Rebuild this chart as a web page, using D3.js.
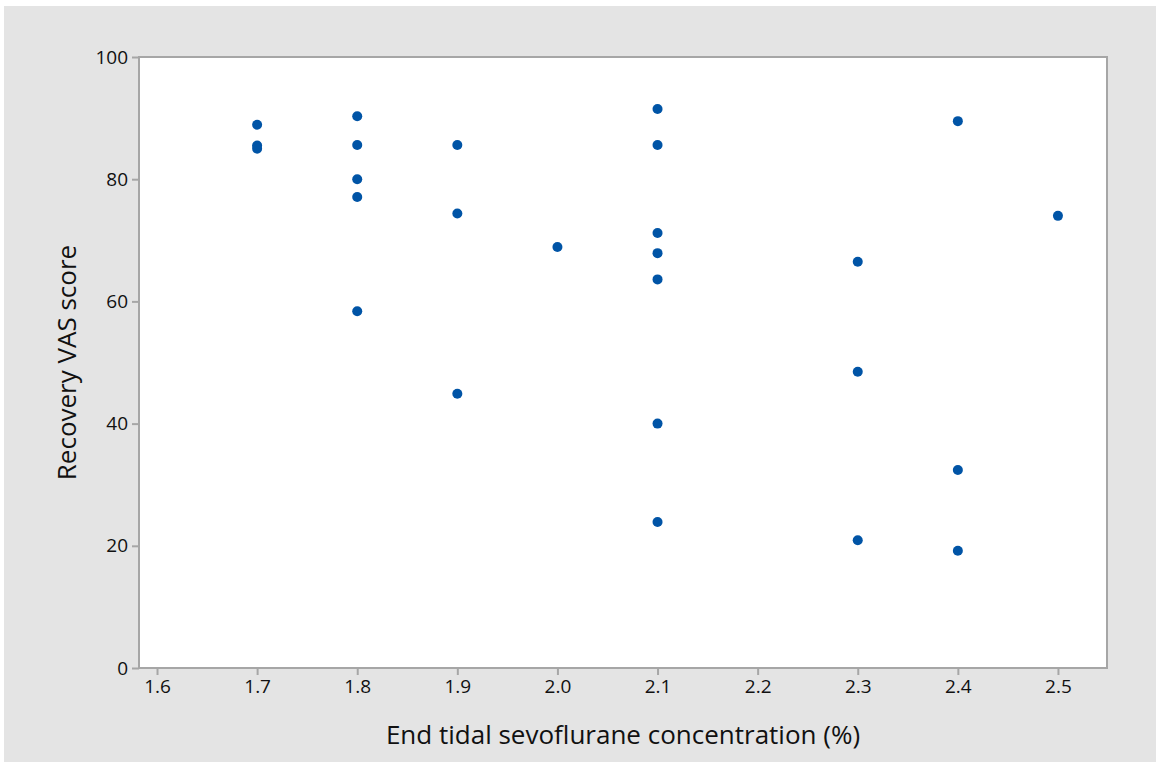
<!DOCTYPE html>
<html>
<head>
<meta charset="utf-8">
<script src="https://cdn.jsdelivr.net/npm/d3@7"></script>
<style>
  html, body { margin: 0; padding: 0; background: #ffffff; }
  svg { display: block; }
  .tick text { font-family: "Open Sans", "DejaVu Sans", sans-serif; }
</style>
</head>
<body>
<svg id="chart" width="1159" height="769"></svg>
<script>
// End tidal sevoflurane concentration (%) per patient
const concentration = [
  1.7, 1.7, 1.7,
  1.8, 1.8, 1.8, 1.8, 1.8,
  1.9, 1.9, 1.9,
  2.0,
  2.1, 2.1, 2.1, 2.1, 2.1, 2.1, 2.1,
  2.3, 2.3, 2.3,
  2.4, 2.4, 2.4,
  2.5
];
// Recovery VAS score per patient
const vasScore = [
  88.9, 85.5, 85.0,
  90.3, 85.6, 80.0, 77.1, 58.4,
  85.6, 74.4, 44.9,
  68.9,
  91.5, 85.6, 71.2, 67.9, 63.6, 40.0, 23.9,
  66.5, 48.5, 20.9,
  89.5, 32.4, 19.2,
  74.0
];
const xTicks = [1.6, 1.7, 1.8, 1.9, 2.0, 2.1, 2.2, 2.3, 2.4, 2.5];
const yTicks = [0, 20, 40, 60, 80, 100];

const svg = d3.select("#chart");
const W = 1159, H = 769;
const plot = { left: 139, right: 1107, top: 57, bottom: 668 };

// outer panel
svg.append("rect").attr("x", 4).attr("y", 6).attr("width", W - 7).attr("height", H - 13)
  .attr("fill", "#e4e4e4");

const x = d3.scaleLinear().domain([1.582, 2.549]).range([plot.left, plot.right]);
const y = d3.scaleLinear().domain([0, 100]).range([plot.bottom, plot.top]);

// data region
svg.append("rect")
  .attr("x", plot.left).attr("y", plot.top)
  .attr("width", plot.right - plot.left).attr("height", plot.bottom - plot.top)
  .attr("fill", "#ffffff").attr("stroke", "#a6a6a6").attr("stroke-width", 2);

const axisColor = "#a6a6a6";

const xAxis = svg.append("g")
  .attr("transform", `translate(0,${plot.bottom})`)
  .call(d3.axisBottom(x).tickValues(xTicks).tickFormat(d3.format(".1f")).tickSize(7).tickPadding(5));
const yAxis = svg.append("g")
  .attr("transform", `translate(${plot.left},0)`)
  .call(d3.axisLeft(y).tickValues(yTicks).tickFormat(d3.format("d")).tickSize(7).tickPadding(4));

[xAxis, yAxis].forEach(g => {
  g.select(".domain").remove();
  g.selectAll(".tick line").attr("stroke", axisColor).attr("stroke-width", 2);
  g.selectAll(".tick text").attr("fill", "#111111").style("font-size", "19px");
});

// points
svg.append("g").selectAll("circle")
  .data(concentration.map((c, i) => ({ c, v: vasScore[i] })))
  .join("circle")
  .attr("cx", d => x(d.c))
  .attr("cy", d => y(d.v))
  .attr("r", 5)
  .attr("fill", "#0054a6");

// axis titles
svg.append("text")
  .attr("x", (plot.left + plot.right) / 2).attr("y", 744)
  .attr("text-anchor", "middle")
  .style("font-family", "'Open Sans', 'DejaVu Sans', sans-serif")
  .style("font-size", "26px").attr("fill", "#111111")
  .text("End tidal sevoflurane concentration (%)");

svg.append("text")
  .attr("transform", `translate(76,${(plot.top + plot.bottom) / 2}) rotate(-90)`)
  .attr("text-anchor", "middle")
  .style("font-family", "'Open Sans', 'DejaVu Sans', sans-serif")
  .style("font-size", "26px").attr("fill", "#111111")
  .text("Recovery VAS score");
</script>
</body>
</html>
